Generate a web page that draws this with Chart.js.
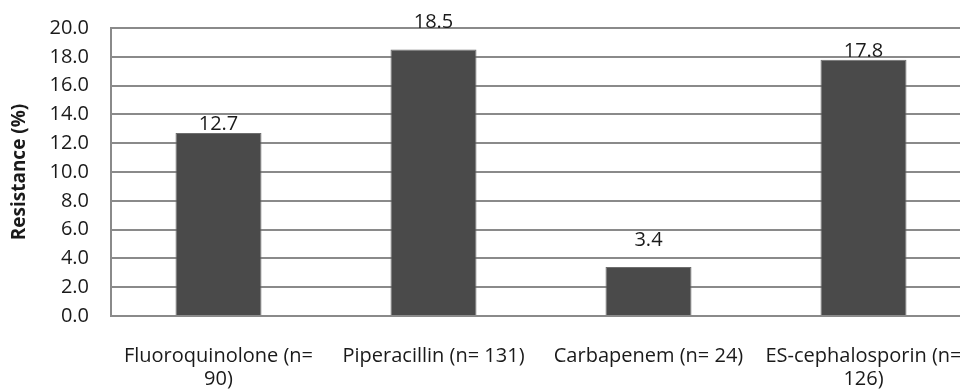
<!DOCTYPE html>
<html>
<head>
<meta charset="utf-8">
<script src="https://cdn.jsdelivr.net/npm/chart.js@4"></script>
<style>
  html, body { margin: 0; padding: 0; background: #fff; overflow: hidden; }
  #wrap { width: 975px; height: 391px; }
</style>
</head>
<body>
<div id="wrap"><canvas id="c" width="975" height="391"></canvas></div>
<script>
// Resistance by drug class, bar chart with values over each bar.
var categories = [
    ["Fluoroquinolone (n=", "90)"],
    ["Piperacillin (n= 131)"],
    ["Carbapenem (n= 24)"],
    ["ES-cephalosporin (n=", "126)"]
];
var resistance = [12.7, 18.5, 3.4, 17.8];
var yTicks = [0, 2, 4, 6, 8, 10, 12, 14, 16, 18, 20];

var FONT = "'Open Sans', sans-serif";
var labelLift = [3, 22, 21, 3];   // Excel put the labels at uneven heights (baseline above bar top)

var valuesPlugin = {
    id: "barValues",
    afterDatasetsDraw: function (c) {
        var meta = c.getDatasetMeta(0), ctx = c.ctx;
        ctx.save();
        ctx.fillStyle = "#1a1a1a";
        ctx.font = "20px " + FONT;
        ctx.textAlign = "center";
        ctx.textBaseline = "alphabetic";
        resistance.forEach(function (v, i) {
            var bar = meta.data[i];
            ctx.fillText(v.toFixed(1), bar.x, bar.y - labelLift[i]);
        });
        ctx.restore();
    }
};

new Chart(document.getElementById("c").getContext("2d"), {
    type: "bar",
    data: {
        labels: categories,
        datasets: [{
            data: resistance,
            backgroundColor: "#4a4a4a",
            borderColor: "#6e6e6e",
            borderWidth: 1,
            categoryPercentage: 1,
            barPercentage: 0.4
        }]
    },
    plugins: [valuesPlugin],
    options: {
        responsive: false,
        animation: false,
        layout: { padding: { top: 28, right: 4, left: 0, bottom: 0 } },
        scales: {
            x: {
                grid: { display: false, drawTicks: false },
                border: { color: "#8a8a8a", width: 2 },
                ticks: { color: "#1a1a1a", font: { family: FONT, size: 20, lineHeight: 1.15 },
                         autoSkip: false, maxRotation: 0, minRotation: 0, padding: 29 },
                afterFit: function (s) { s.height = 75; s.paddingLeft = 0; s.paddingRight = 0; }
            },
            y: {
                min: 0, max: 20,
                afterBuildTicks: function (s) { s.ticks = yTicks.map(function (v) { return { value: v }; }); },
                grid: { color: "#8a8a8a", lineWidth: 2, drawTicks: false },
                border: { color: "#8a8a8a", width: 2 },
                ticks: { color: "#1a1a1a", font: { family: FONT, size: 20 }, padding: 22,
                         callback: function (v) { return v.toFixed(1); } },
                title: { display: true, text: "Resistance (%)", color: "#1a1a1a",
                         font: { family: FONT, size: 19, weight: "bold" }, padding: { top: 8, bottom: 0 } },
                afterFit: function (s) { s.width = 111; s.paddingTop = 0; s.paddingBottom = 0; }
            }
        },
        plugins: { legend: { display: false }, tooltip: { enabled: false } }
    }
});
</script>
</body>
</html>
